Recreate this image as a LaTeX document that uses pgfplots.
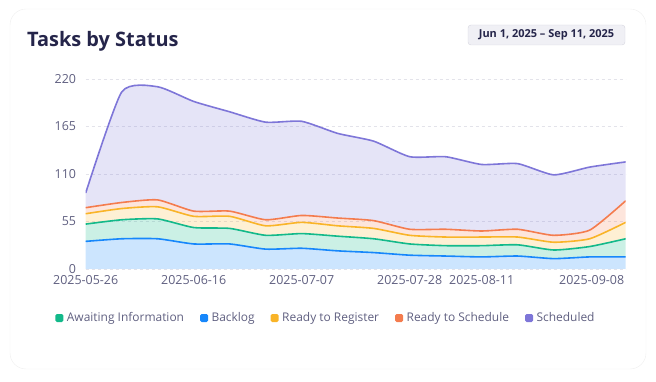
\documentclass[border=0pt]{standalone}
\usepackage{fontspec}
\setmainfont{Open Sans}
\usepackage{pgfplots}
\pgfplotsset{compat=1.18}
\usepackage{pgfplotstable}
\usepgfplotslibrary{fillbetween}
\definecolor{cTitle}{HTML}{25254A}
\definecolor{cLab}{HTML}{5F5F80}
\definecolor{cGrid}{HTML}{E3E3EA}
\definecolor{cBadge}{HTML}{F0F0F5}
\definecolor{cBadgeB}{HTML}{D5D5DE}
\definecolor{cSch}{HTML}{7E76D8}
\definecolor{cRS}{HTML}{F47C4E}
\definecolor{cRR}{HTML}{F9B428}
\definecolor{cAw}{HTML}{13B98A}
\definecolor{cBl}{HTML}{1787FB}

\pgfplotstableread{
w backlog awaiting rreg rsch sched
0  32 20 12  7  17
1  35 22 13  7 128
2  35 23 14  8 131
3  29 19 13  6 127
4  29 18 14  6 115
5  23 16 11  7 113
6  24 17 13  8 109
7  21 17 12  9  98
8  19 16 12  9  92
9  16 13 10  7  84
10 15 12 10  9  84
11 14 13 10  7  77
12 15 13  9  9  76
13 12 10  9  8  70
14 14 12  9 10  73
15 14 21 19 25  45
}\data

\begin{document}
\begin{tikzpicture}
\path (0bp,0bp) rectangle (656bp,382bp);
\draw[draw=black!7, rounded corners=16bp] (10bp,13bp) rectangle (646bp,373bp);
\node[anchor=base west, inner sep=0, text=cTitle, font=\fontsize{20}{24}\selectfont\bfseries] at (27bp,335bp) {Tasks by Status};
\node[anchor=center, fill=cBadge, draw=cBadgeB, rounded corners=3bp, minimum width=157bp, minimum height=20bp, inner sep=0, text=cTitle, font=\fontsize{11}{13}\selectfont\bfseries] at (546.5bp,347bp) {Jun 1, 2025 -- Sep 11, 2025};
\begin{axis}[
  at={(85.7bp,113bp)}, anchor=south west, scale only axis,
  width=540bp, height=190bp,
  xmin=0, xmax=15, ymin=0, ymax=220,
  axis lines=left, axis line style={draw=none}, tick style={draw=none},
  ytick={0,55,110,165,220},
  ymajorgrids, grid style={cGrid, dash pattern=on 3bp off 3bp, line width=0.8bp},
  xtick={0,3,6,9,11},
  xticklabels={2025-05-26,2025-06-16,2025-07-07,2025-07-28,2025-08-11},
  extra x ticks={15}, extra x tick labels={2025-09-08},
  extra x tick style={xticklabel style={anchor=north east, xshift=2bp}},
  /pgf/number format/assume math mode=true,
  ticklabel style={font=\fontsize{12.5}{15}\selectfont, text=cLab},
  yticklabel style={xshift=-4bp},
  xticklabel style={yshift=-1bp},
  legend columns=5,
  legend style={draw=none, fill=none, at={(axis description cs:-0.062,-0.258)}, anchor=west,
    font=\fontsize{12}{15}\selectfont, text=cLab,
    /tikz/every even column/.append style={column sep=14bp},
    /tikz/every odd column/.append style={column sep=1.5bp}},
  legend image code/.code={\fill[rounded corners=1.5bp] (0bp,-4bp) rectangle (8bp,4bp);},
  every axis plot/.append style={tension=0.35},
]
\addplot[draw=none, name path=p0, forget plot] coordinates {(0,0) (15,0)};
\addplot[draw=none, smooth, name path=p1, forget plot] table[x=w, y=backlog]{\data};
\addplot[draw=none, smooth, name path=p2, forget plot] table[x=w, y expr=\thisrow{backlog}+\thisrow{awaiting}]{\data};
\addplot[draw=none, smooth, name path=p3, forget plot] table[x=w, y expr=\thisrow{backlog}+\thisrow{awaiting}+\thisrow{rreg}]{\data};
\addplot[draw=none, smooth, name path=p4, forget plot] table[x=w, y expr=\thisrow{backlog}+\thisrow{awaiting}+\thisrow{rreg}+\thisrow{rsch}]{\data};
\addplot[draw=none, smooth, name path=p5, forget plot] table[x=w, y expr=\thisrow{backlog}+\thisrow{awaiting}+\thisrow{rreg}+\thisrow{rsch}+\thisrow{sched}]{\data};
\addplot[fill=cBl, fill opacity=0.22, draw=none, forget plot] fill between[of=p1 and p0];
\addplot[fill=cAw, fill opacity=0.22, draw=none, forget plot] fill between[of=p2 and p1];
\addplot[fill=cRR, fill opacity=0.2, draw=none, forget plot] fill between[of=p3 and p2];
\addplot[fill=cRS, fill opacity=0.2, draw=none, forget plot] fill between[of=p4 and p3];
\addplot[fill=cSch, fill opacity=0.2, draw=none, forget plot] fill between[of=p5 and p4];
\addplot[cBl, line width=1.6bp, smooth, forget plot] table[x=w, y=backlog]{\data};
\addplot[cAw, line width=1.6bp, smooth, forget plot] table[x=w, y expr=\thisrow{backlog}+\thisrow{awaiting}]{\data};
\addplot[cRR, line width=1.6bp, smooth, forget plot] table[x=w, y expr=\thisrow{backlog}+\thisrow{awaiting}+\thisrow{rreg}]{\data};
\addplot[cRS, line width=1.6bp, smooth, forget plot] table[x=w, y expr=\thisrow{backlog}+\thisrow{awaiting}+\thisrow{rreg}+\thisrow{rsch}]{\data};
\addplot[cSch, line width=1.6bp, smooth, forget plot] table[x=w, y expr=\thisrow{backlog}+\thisrow{awaiting}+\thisrow{rreg}+\thisrow{rsch}+\thisrow{sched}]{\data};
\addlegendimage{fill=cAw, draw=none}
\addlegendentry{Awaiting Information}
\addlegendimage{fill=cBl, draw=none}
\addlegendentry{Backlog}
\addlegendimage{fill=cRR, draw=none}
\addlegendentry{Ready to Register}
\addlegendimage{fill=cRS, draw=none}
\addlegendentry{Ready to Schedule}
\addlegendimage{fill=cSch, draw=none}
\addlegendentry{Scheduled}
\end{axis}
\end{tikzpicture}
\end{document}
